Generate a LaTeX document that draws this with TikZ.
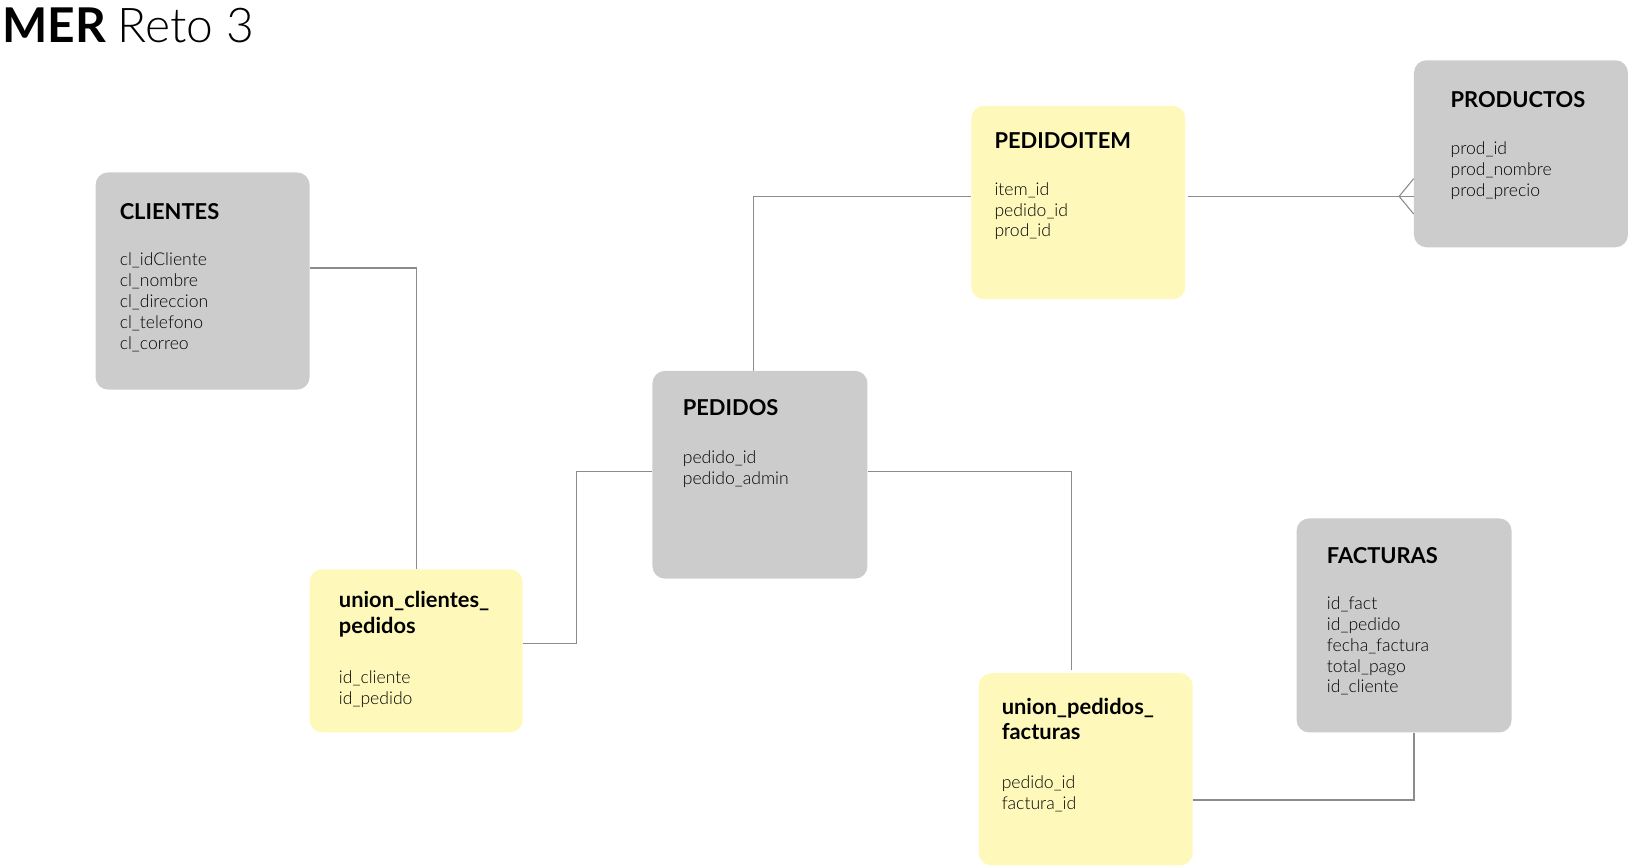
\documentclass[tikz,border=0pt]{standalone}
\usepackage{fontspec}
\setmainfont{Lato}
\newfontfamily\latolight{Lato Light}
\usetikzlibrary{fit}
\definecolor{boxgray}{HTML}{CCCCCC}
\definecolor{boxyellow}{HTML}{FEF9BA}
\definecolor{linegray}{HTML}{8C8C8C}
\tikzset{
  gbox/.style={fill=boxgray, draw=none, rounded corners=9pt, inner sep=0pt},
  ybox/.style={fill=boxyellow, draw=none, rounded corners=9pt, inner sep=0pt},
  ttl/.style={anchor=base west, inner sep=0pt, font=\bfseries\fontsize{15.8}{18}\selectfont},
  attr/.style={anchor=base west, inner sep=0pt, font=\latolight\fontsize{12.7}{15}\selectfont},
  conn/.style={draw=linegray, line width=0.8pt}
}
\begin{document}
\begin{tikzpicture}[x=0.75pt, y=-0.75pt]
\useasboundingbox (0,0) rectangle (1568,834);
% title
\node[anchor=base west, inner sep=0pt, font=\fontsize{34.6}{38}\selectfont] (title) at (2,41) {\bfseries MER \mdseries\latolight Reto 3};
% boxes
\node[gbox, fit={(92,166) (298,375)}] (cli) {};
\node[ybox, fit={(935,102) (1141,288)}] (pit) {};
\node[gbox, fit={(1361,58) (1567,238)}] (prod) {};
\node[gbox, fit={(628,357) (835,557)}] (ped) {};
\node[ybox, fit={(298,548) (503,705)}] (ucp) {};
\node[ybox, fit={(942,648) (1148,833)}] (upf) {};
\node[gbox, fit={(1248,499) (1455,705)}] (fac) {};
% titles
\node[ttl] (cliT) at (115,211) {CLIENTES};
\node[ttl] (pitT) at (957,143) {PEDIDOITEM};
\node[ttl] (prodT) at (1396,103) {PRODUCTOS};
\node[ttl] (pedT) at (657,400) {PEDIDOS};
\node[ttl] (ucpT1) at (326,585) {union\_clientes\_};
\node[ttl] (ucpT2) at (326,610) {pedidos};
\node[ttl] (upfT1) at (964,688) {union\_pedidos\_};
\node[ttl] (upfT2) at (964,712) {facturas};
\node[ttl] (facT) at (1277,542) {FACTURAS};
% attributes
\foreach \t [count=\i] in {cl\_idCliente, cl\_nombre, cl\_direccion, cl\_telefono, cl\_correo}
  \node[attr] (cliA\i) at (115,{256+20*(\i-1)}) {\t};
\foreach \t [count=\i] in {item\_id, pedido\_id, prod\_id}
  \node[attr] (pitA\i) at (957,{188+20*(\i-1)}) {\t};
\foreach \t [count=\i] in {prod\_id, prod\_nombre, prod\_precio}
  \node[attr] (prodA\i) at (1396,{149+20*(\i-1)}) {\t};
\foreach \t [count=\i] in {pedido\_id, pedido\_admin}
  \node[attr] (pedA\i) at (657,{446+20*(\i-1)}) {\t};
\foreach \t [count=\i] in {id\_cliente, id\_pedido}
  \node[attr] (ucpA\i) at (326,{658+20*(\i-1)}) {\t};
\foreach \t [count=\i] in {pedido\_id, factura\_id}
  \node[attr] (upfA\i) at (964,{759+20*(\i-1)}) {\t};
\foreach \t [count=\i] in {id\_fact, id\_pedido, fecha\_factura, total\_pago, id\_cliente}
  \node[attr] (facA\i) at (1277,{587+20*(\i-1)}) {\t};
% connectors
\draw[conn] (cli.east |- 0,258) -| (ucp.north);
\draw[conn] (ucp.east |- 0,619) -| (555,454) -- (ped.west |- 0,454);
\draw[conn] (ped.north -| 725,0) |- (pit.west |- 0,189);
\draw[conn] ([xshift=1.5pt]pit.east |- 0,189) -- (prod.west |- 0,189);
\draw[conn] (prod.west |- 0,172) -- ([xshift=-10.5pt]prod.west |- 0,189) -- (prod.west |- 0,206);
\draw[conn] (ped.east |- 0,454) -| ([yshift=2.25pt]upf.north -| 1031,0);
\draw[conn] (upf.east |- 0,770) -| (fac.south -| 1361,0);
\end{tikzpicture}
\end{document}
